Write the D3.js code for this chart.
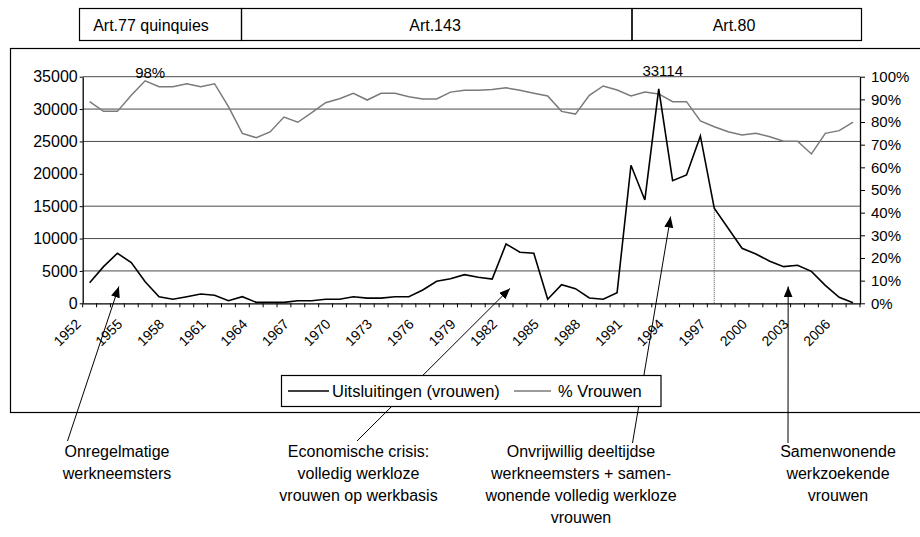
<!DOCTYPE html>
<html>
<head>
<meta charset="utf-8">
<script src="https://d3js.org/d3.v7.min.js"></script>
<style>
  body { margin: 0; background: #fff; }
  svg { display: block; font-family: "Liberation Sans", Arial, sans-serif; }
</style>
</head>
<body>
<div id="chart"></div>
<script>
// Data
const years = ["1952","1953","1954","1955","1956","1957","1958","1959","1960","1961",
  "1962","1963","1964","1965","1966","1967","1968","1969","1970","1971",
  "1972","1973","1974","1975","1976","1977","1978","1979","1980","1981",
  "1982","1983","1984","1985","1986","1987","1988","1989","1990","1991",
  "1992","1993","1994","1995","1996","1997","1998","1999","2000","2001",
  "2002","2003","2004","2005","2006","2007"];
const uitsluitingen = [3180, 5660, 7730, 6280, 3340, 1020, 620, 1020, 1440, 1240,
  400, 1020, 150, 150, 150, 400, 400, 620, 620, 1020,
  800, 800, 1020, 1020, 2060, 3400, 3800, 4420, 4020, 3750,
  9160, 7880, 7730, 620, 2870, 2260, 820, 620, 1640, 21320,
  15960, 33114, 18940, 19820, 25850, 14680, 11590, 8500, 7620, 6490,
  5660, 5870, 4940, 2780, 930, 100];
const pctVrouwen = [89.0, 84.7, 84.7, 91.8, 98.2, 95.6, 95.6, 96.9, 95.6, 96.9,
  86.8, 75.0, 73.1, 75.6, 82.2, 79.9, 84.1, 88.5, 90.3, 92.7,
  89.7, 92.7, 92.7, 91.2, 90.2, 90.2, 93.2, 94.0, 94.0, 94.4,
  95.1, 94.0, 92.7, 91.5, 84.7, 83.5, 91.8, 95.9, 94.1, 91.5,
  93.2, 92.4, 89.0, 89.0, 80.5, 77.9, 75.7, 74.3, 75.0, 73.5,
  71.5, 71.5, 65.9, 75.0, 76.2, 80.0];
const yearLabels = ["1952","1955","1958","1961","1964","1967","1970","1973","1976",
  "1979","1982","1985","1988","1991","1994","1997","2000","2003","2006"];
const leftTicks = [0, 5000, 10000, 15000, 20000, 25000, 30000, 35000];
const gridValues = [5000, 10000, 15000, 25000, 30000, 35000];
const rightTicks = [0, 10, 20, 30, 40, 50, 60, 70, 80, 90, 100];
const periods = ["Art.77 quinquies", "Art.143", "Art.80"];
const seriesNames = ["Uitsluitingen (vrouwen)", "% Vrouwen"];
const notes = [
  ["Onregelmatige", "werkneemsters"],
  ["Economische crisis:", "volledig werkloze", "vrouwen op werkbasis"],
  ["Onvrijwillig deeltijdse", "werkneemsters + samen-", "wonende volledig werkloze", "vrouwen"],
  ["Samenwonende", "werkzoekende", "vrouwen"]
];

const svg = d3.select("#chart")
  .append("svg")
  .attr("width", 920)
  .attr("height", 537);

const xScale = d3.scaleBand().domain(years).range([82.7, 860]);
const yLeft = d3.scaleLinear().domain([0, 35000]).range([303.3, 76.7]);
const yRight = d3.scaleLinear().domain([0, 100]).range([303.3, 76.7]);
const xc = d => xScale(d) + xScale.bandwidth() / 2;

// outer frame
svg.append("rect")
  .attr("x", 10.5).attr("y", 48.5)
  .attr("width", 920).attr("height", 364)
  .attr("fill", "none").attr("stroke", "#000").attr("stroke-width", 1.2);

// period boxes on top
const periodEdges = [79.5, 241.5, 632, 861.5];
const periodTextX = [151, 435, 734];
periods.forEach((p, i) => {
  svg.append("rect")
    .attr("x", periodEdges[i]).attr("y", 8.5)
    .attr("width", periodEdges[i + 1] - periodEdges[i]).attr("height", 32)
    .attr("fill", "none").attr("stroke", "#000").attr("stroke-width", 1.2);
  svg.append("text")
    .attr("x", periodTextX[i]).attr("y", 31)
    .attr("text-anchor", "middle")
    .attr("font-size", "16px")
    .text(p);
});

// gridlines
svg.selectAll("line.grid")
  .data(gridValues)
  .join("line")
  .attr("class", "grid")
  .attr("x1", 82.7).attr("x2", 860)
  .attr("y1", d => yLeft(d)).attr("y2", d => yLeft(d))
  .attr("stroke", "#4a4a4a").attr("stroke-width", 1);

// drop line at 1997
svg.append("line")
  .attr("x1", xc("1997")).attr("x2", xc("1997"))
  .attr("y1", yLeft(uitsluitingen[years.indexOf("1997")])).attr("y2", yLeft(0))
  .attr("stroke", "#555").attr("stroke-width", 1)
  .attr("stroke-dasharray", "1,1");

// % line
svg.append("path")
  .datum(pctVrouwen)
  .attr("fill", "none")
  .attr("stroke", "#7a7a7a")
  .attr("stroke-width", 1.5)
  .attr("d", d3.line().x((_, i) => xc(years[i])).y(d => yRight(d)));

// uitsluitingen line
svg.append("path")
  .datum(uitsluitingen)
  .attr("fill", "none")
  .attr("stroke", "#000")
  .attr("stroke-width", 1.6)
  .attr("d", d3.line().x((_, i) => xc(years[i])).y(d => yLeft(d)));

// axes
const leftAxis = svg.append("g")
  .attr("transform", "translate(82.7,0)")
  .call(d3.axisLeft(yLeft).tickValues(leftTicks).tickFormat(d => d).tickSize(3).tickPadding(2).tickSizeOuter(0));
leftAxis.selectAll("text").attr("font-size", "16px").attr("fill", "#000").attr("font-family", null);

const rightAxis = svg.append("g")
  .attr("transform", "translate(860,0)")
  .call(d3.axisRight(yRight).tickValues(rightTicks).tickFormat(d => d + "%").tickSize(5).tickPadding(6).tickSizeOuter(0));
rightAxis.selectAll("text").attr("font-size", "15px").attr("fill", "#000").attr("font-family", null);

const bottomAxis = svg.append("g")
  .attr("transform", "translate(0,303.3)")
  .call(d3.axisBottom(xScale).tickValues([]).tickSizeOuter(0));
// ticks between categories
bottomAxis.selectAll("line.cat")
  .data(years.concat(["end"]))
  .join("line")
  .attr("class", "cat")
  .attr("x1", (d, i) => 82.7 + i * xScale.step())
  .attr("x2", (d, i) => 82.7 + i * xScale.step())
  .attr("y1", 0).attr("y2", 4)
  .attr("stroke", "#000");

svg.selectAll("path.domain").attr("stroke", "#000").attr("stroke-width", 1.3);
svg.selectAll(".tick line").attr("stroke", "#000");

// year labels
svg.selectAll("text.year")
  .data(yearLabels)
  .join("text")
  .attr("class", "year")
  .attr("text-anchor", "end")
  .attr("font-size", "14px")
  .attr("transform", d => `translate(${xc(d) - 8},325) rotate(-45)`)
  .text(d => d);

// value labels
svg.append("text")
  .attr("x", xc("1956") + 5).attr("y", 78)
  .attr("text-anchor", "middle").attr("font-size", "15px")
  .text("98%");
svg.append("text")
  .attr("x", xc("1993") + 4).attr("y", 75.5)
  .attr("text-anchor", "middle").attr("font-size", "15px")
  .text("33114");

// annotation arrows
svg.append("defs").append("marker")
  .attr("id", "head")
  .attr("markerUnits", "userSpaceOnUse")
  .attr("markerWidth", 12).attr("markerHeight", 10)
  .attr("refX", 11).attr("refY", 4.5)
  .attr("orient", "auto")
  .append("path")
  .attr("d", "M0,0 L11,4.5 L0,9 Z")
  .attr("fill", "#000");

const arrows = [
  { from: [67.5, 441], to: [xc("1954") + 1.5, yLeft(2600)] },
  { from: [357, 441], to: [xc("1982") + 4, yLeft(2300)] },
  { from: [632.5, 443], to: [xc("1994") - 2, yLeft(13400)] },
  { from: [788, 443], to: [xc("2002") + 4.5, yLeft(2600)] }
];
svg.selectAll("line.arrow")
  .data(arrows)
  .join("line")
  .attr("class", "arrow")
  .attr("x1", d => d.from[0]).attr("y1", d => d.from[1])
  .attr("x2", d => d.to[0]).attr("y2", d => d.to[1])
  .attr("stroke", "#000").attr("stroke-width", 1)
  .attr("marker-end", "url(#head)");

// note texts
const noteX = [117, 358.5, 581, 838];
notes.forEach((lines, i) => {
  const t = svg.append("text")
    .attr("text-anchor", "middle")
    .attr("font-size", "16px");
  lines.forEach((l, j) => {
    t.append("tspan").attr("x", noteX[i]).attr("y", 457 + j * 22).text(l);
  });
});

// legend
const legend = svg.append("g");
legend.append("rect")
  .attr("x", 281.5).attr("y", 375.5)
  .attr("width", 379.5).attr("height", 31)
  .attr("fill", "#fff").attr("stroke", "#000").attr("stroke-width", 1.2);
const legendColors = ["#000", "#7a7a7a"];
const legendX = [288, 514];
seriesNames.forEach((s, i) => {
  legend.append("line")
    .attr("x1", legendX[i]).attr("x2", legendX[i] + (i === 0 ? 41 : 37))
    .attr("y1", 391).attr("y2", 391)
    .attr("stroke", legendColors[i]).attr("stroke-width", 1.6);
  legend.append("text")
    .attr("x", legendX[i] + 44).attr("y", 397)
    .attr("font-size", "16.5px")
    .text(s);
});
</script>
</body>
</html>
